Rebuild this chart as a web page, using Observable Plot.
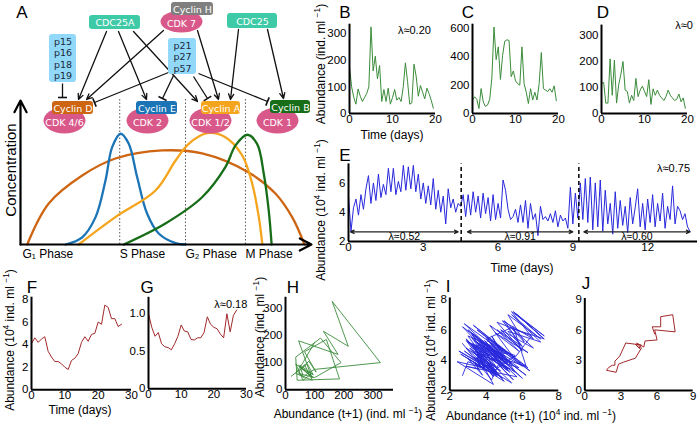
<!DOCTYPE html>
<html><head><meta charset="utf-8">
<script src="https://cdn.jsdelivr.net/npm/d3@7"></script>
<script src="https://cdn.jsdelivr.net/npm/@observablehq/plot@0.6"></script>
<style>
body{margin:0;background:#fff;}
#fig{position:relative;width:700px;height:425px;overflow:hidden;font-family:"Liberation Sans",Arial,sans-serif;color:#000;background:#fff;}
.p{position:absolute;}
.lbl{position:absolute;white-space:nowrap;font-size:12px;transform:translate(-50%,-50%);line-height:1;}
.rot{transform:translate(-50%,-50%) rotate(-90deg);}
.let{font-size:17px;}
sup{font-size:70%;vertical-align:super;line-height:0;}
</style></head><body><div id="fig"></div>
<script>
// ---------------- DATA ----------------
// Panel A: cyclin concentration profiles (cell-cycle position 0-100, relative level 0-1)
const cyclinD = [[2.3,0],[9.7,0.285],[21.2,0.479],[32.6,0.597],[48.7,0.653],[62.4,0.632],[78.4,0.5],[87.6,0.354],[93.4,0.188],[97.6,0]];
const cyclinE = [[15.5,0],[21.2,0.05],[25.8,0.19],[29.2,0.444],[31.5,0.676],[34.4,0.769],[37.2,0.699],[40.1,0.467],[43.5,0.215],[47.5,0.076],[53.3,0.009],[56.7,0]];
const cyclinA = [[20,0],[32.6,0.19],[46.4,0.375],[53.3,0.583],[57.8,0.699],[64.2,0.773],[70.4,0.745],[76.2,0.618],[79.6,0.424],[81.9,0.19],[83.1,0]];
const cyclinB = [[35.5,0],[49.8,0.146],[62.4,0.328],[70.4,0.537],[73.9,0.688],[77.9,0.762],[81.3,0.699],[83.6,0.491],[85.3,0.236],[86.3,0]];
const phaseNames = ["G\u2081 Phase","S Phase","G\u2082 Phase","M Phase"];
const phaseStarts = [0.7, 34.1, 56.7, 77.3];
const phaseBounds = [34.1, 56.7, 77.3];

// Panel A diagram
const boxNames = ["CDC25A","Cyclin H","CDC25","p15\np16\np18\np19","p21\np27\np57","Cyclin D","Cyclin E","Cyclin A","Cyclin B"];
const cdkNames = ["CDK 7","CDK 4/6","CDK 2","CDK 1/2","CDK 1"];
const activations = [["CDC25A","Cyclin D"],["CDC25A","Cyclin E"],["CDC25A","Cyclin A"],["CDK 7","Cyclin D"],["CDK 7","Cyclin A"],["CDC25","Cyclin A"],["CDC25","Cyclin B"]];
const inhibitions = [["p15","Cyclin D"],["p21","Cyclin D"],["p21","Cyclin E"],["p21","Cyclin A"],["p21","Cyclin B"]];

// Panels B-D: abundance (ind. ml-1), every 0.5 day
const bValues = [175,100,60,35,92,65,45,60,75,100,325,160,215,130,180,45,90,45,95,35,60,90,50,60,45,100,190,120,35,40,185,140,65,105,80,55,95,75,50,20];
const cValues = [94,118,100,35,176,82,50,60,100,250,610,380,470,240,410,510,520,515,260,300,230,210,200,470,210,150,70,175,95,150,95,210,430,175,165,155,175,150,195,90];
const dValues = [115,120,40,40,210,70,205,40,110,150,200,90,85,40,70,50,135,65,90,105,85,65,130,35,95,70,90,70,60,50,65,90,70,60,50,55,75,45,60,20];
// Panel E: abundance (10^4 ind. ml-1), every 0.1 day
const eValues = [
5.1,2.7,4.3,4.9,3.8,5.2,4.2,5.6,6.5,4.6,
6.0,4.8,6.6,5.0,5.9,5.2,7.0,5.4,7.0,5.2,
6.1,5.4,7.2,5.5,7.1,5.6,7.2,5.4,6.6,4.9,
6.0,4.6,5.8,4.5,6.3,4.2,5.5,4.0,5.1,3.2,
5.6,4.3,4.9,4.0,4.6,4.4,5.2,3.7,5.2,3.8,
5.4,4.0,5.1,3.6,5.3,3.9,5.0,3.4,5.2,3.5,
4.6,3.6,6.2,5.5,4.2,3.5,3.7,4.2,3.3,4.5,
3.3,4.8,2.9,4.6,3.5,3.9,2.4,4.4,3.5,3.7,
3.4,3.9,3.3,4.1,3.0,3.8,3.4,3.6,2.9,5.7,
3.2,5.3,3.6,6.0,3.5,6.3,3.3,6.4,2.8,6.0,
3.0,6.2,2.7,5.5,3.2,4.6,2.5,5.4,2.9,4.8,
3.1,4.4,2.6,5.0,3.2,4.3,5.6,3.0,4.6,2.8,
4.9,3.3,5.2,3.0,4.6,3.4,5.3,2.9,4.4,3.5,
5.8,3.2,4.4,4.1,3.5,3.9,3.0,2.7];
const ePeriods = [[0.08,4.4],[4.77,9.0],[9.44,13.7]];
const eLambdas = ["\u03bb\u22480.52","\u03bb\u22480.91","\u03bb\u22480.60"];
const eBreaks = [4.52, 9.24];
// Panels F, G: daily
const fValues = [4.1,4.6,4.2,4.5,4.7,3.4,2.9,2.5,2.5,2.3,2.0,1.8,2.6,2.8,3.2,4.2,4.7,4.3,4.9,5.0,6.0,5.8,7.5,7.3,6.3,6.3,5.6,5.8];
const gValues = [1.0,0.82,0.70,0.75,0.60,0.56,0.55,0.52,0.60,0.70,0.85,0.77,0.76,0.66,0.65,0.68,0.68,0.75,0.96,0.86,0.82,0.80,0.73,0.68,1.0,0.76,0.98,1.05];

// ---------------- STYLES / LAYOUT ----------------
const green = "#3b8c3b", blue = "#2828dc", brown = "#a2292b";
const teal = "#3fcaa7", pink = "#d9588a", pale = "#92d8f8";
const boxFill = {"CDC25A":teal,"Cyclin H":"#7f7f7f","CDC25":teal,"p15\np16\np18\np19":pale,"p21\np27\np57":pale,"Cyclin D":"#cd6512","Cyclin E":"#1b74b6","Cyclin A":"#f5a51d","Cyclin B":"#186e18"};
const boxLayout = {"CDC25A":[89,140,15,29],"Cyclin H":[171,213,2,15],"CDC25":[227,277,13,28],"p15\np16\np18\np19":[49,76,34,82],"p21\np27\np57":[168,196,38,74],"Cyclin D":[52,93,101,114],"Cyclin E":[136,177,101,114],"Cyclin A":[201,240,101,114],"Cyclin B":[270,310,100,113]};
const cdkLayout = {"CDK 7":[181,21],"CDK 4/6":[64,120],"CDK 2":[147,120],"CDK 1/2":[210,120],"CDK 1":[277,120]};
const actLayout = [[106,31,78,99],[118,31,146,99],[133,31,197,101],[163,30,86,99],[197,30,218,99],[238,29,230,99],[267,29,283,98]];
const inhLayout = [[62,83,62,97],[168,72,94,102],[173,75,162,98],[193,76,207,98],[198,73,267,101]];

const fig = document.getElementById("fig");
function place(node, left, top){const d=document.createElement("div");d.className="p";d.style.left=left+"px";d.style.top=top+"px";d.appendChild(node);fig.appendChild(d);}
function lab(html, x, y, cls="", size=null){const d=document.createElement("div");d.className="lbl "+cls;d.innerHTML=html;d.style.left=x+"px";d.style.top=y+"px";if(size)d.style.fontSize=size+"px";fig.appendChild(d);}
const baseStyle = {background:"transparent", overflow:"visible", fontFamily:"Liberation Sans, Arial, sans-serif", fontSize:"11.5px", color:"#000"};
const plain = d => String(d);

function panel(box, frame, xs, ys, marks){
  const svg = Plot.plot({
    width: box[2], height: box[3],
    marginLeft: frame[0]-box[0], marginRight: box[0]+box[2]-frame[1],
    marginTop: frame[2]-box[1], marginBottom: box[1]+box[3]-frame[3],
    x: {domain: xs.domain, ticks: xs.ticks, tickSize: 0, tickPadding: 1, tickFormat: xs.fmt || plain, label: null},
    y: {domain: ys.domain, ticks: ys.ticks, tickSize: 0, tickPadding: 3, tickFormat: ys.fmt || plain, label: null},
    style: baseStyle,
    marks: [...marks,
      Plot.ruleX([xs.domain[0]], {stroke:"#000", strokeWidth:2}),
      Plot.ruleY([ys.domain[0]], {stroke:"#000", strokeWidth:2})]
  });
  place(svg, box[0], box[1]);
}
const series = (vals, step) => vals.map((v,i)=>({t:i*step, v}));
const lagged = vals => vals.slice(1).map((v,i)=>({next:v, now:vals[i]}));

// ---------------- PANEL A ----------------
const conc = Plot.plot({
  width:330, height:180, marginLeft:20, marginRight:19, marginTop:10, marginBottom:26,
  x:{domain:[0,100], axis:null}, y:{domain:[0,1], axis:null},
  style: {...baseStyle, fontSize:"12px"},
  marks:[
    Plot.ruleX(phaseBounds, {y1:0, y2:1.02, stroke:"#444", strokeWidth:0.9, strokeDasharray:"1.5,2"}),
    Plot.line(cyclinD, {x:d=>d[0], y:d=>d[1], stroke:"#cd6512", strokeWidth:2.3, curve:"catmull-rom"}),
    Plot.line(cyclinE, {x:d=>d[0], y:d=>d[1], stroke:"#1b74b6", strokeWidth:2.3, curve:"catmull-rom"}),
    Plot.line(cyclinA, {x:d=>d[0], y:d=>d[1], stroke:"#f5a51d", strokeWidth:2.3, curve:"catmull-rom"}),
    Plot.line(cyclinB, {x:d=>d[0], y:d=>d[1], stroke:"#186e18", strokeWidth:2.3, curve:"catmull-rom"}),
    Plot.arrow([{x1:0,y1:0,x2:100,y2:0},{x1:0,y1:0,x2:0,y2:1}], {x1:"x1",y1:"y1",x2:"x2",y2:"y2", stroke:"#000", strokeWidth:2.2, headLength:9, headAngle:55}),
    Plot.text(phaseNames, {x:(d,i)=>phaseStarts[i], y:-0.07, text:d=>d, textAnchor:"start", fontSize:12})
  ]
});
place(conc, 0, 90);

const ellipseSym = (rx, ry) => ({draw(ctx){const k=0.5523;ctx.moveTo(rx,0);ctx.bezierCurveTo(rx,k*ry,k*rx,ry,0,ry);ctx.bezierCurveTo(-k*rx,ry,-rx,k*ry,-rx,0);ctx.bezierCurveTo(-rx,-k*ry,-k*rx,-ry,0,-ry);ctx.bezierCurveTo(k*rx,-ry,rx,-k*ry,rx,0);ctx.closePath();}});
const bars = inhLayout.map(([x1,y1,x2,y2])=>{const dx=x2-x1, dy=y2-y1, L=Math.hypot(dx,dy), px=-dy/L*4.5, py=dx/L*4.5;return {x1:x2-px,y1:y2-py,x2:x2+px,y2:y2+py};});
const diag = Plot.plot({
  width:330, height:140, margin:0,
  x:{domain:[0,330], range:[0,330], axis:null}, y:{domain:[0,140], range:[0,140], axis:null},
  style:{...baseStyle, fontFamily:"DejaVu Sans, Verdana, sans-serif"},
  marks:[
    Plot.arrow(actLayout, {x1:d=>d[0], y1:d=>d[1], x2:d=>d[2], y2:d=>d[3], stroke:"#111", strokeWidth:1.3, headLength:7, headAngle:50}),
    Plot.link(inhLayout, {x1:d=>d[0], y1:d=>d[1], x2:d=>d[2], y2:d=>d[3], stroke:"#111", strokeWidth:1.3}),
    Plot.link(bars, {x1:"x1", y1:"y1", x2:"x2", y2:"y2", stroke:"#111", strokeWidth:1.6}),
    Plot.dot(cdkNames.slice(0,1), {x:d=>cdkLayout[d][0], y:d=>cdkLayout[d][1], symbol:ellipseSym(21,11), fill:pink}),
    Plot.dot(cdkNames.slice(1), {x:d=>cdkLayout[d][0], y:d=>cdkLayout[d][1], symbol:ellipseSym(21,13), fill:pink}),
    Plot.text(cdkNames, {x:d=>cdkLayout[d][0], y:d=>cdkLayout[d][1]+2, text:d=>d, fill:"white", fontSize:9.5}),
    Plot.rect(boxNames, {x1:d=>boxLayout[d][0], x2:d=>boxLayout[d][1], y1:d=>boxLayout[d][2], y2:d=>boxLayout[d][3], fill:d=>boxFill[d], rx:3}),
    Plot.text(boxNames, {x:d=>(boxLayout[d][0]+boxLayout[d][1])/2, y:d=>(boxLayout[d][2]+boxLayout[d][3])/2, text:d=>d, fill:d=>d.startsWith("p")?"#1a2a3a":"white", fontSize:9.5, lineHeight:1.2})
  ]
});
place(diag, 0, 0);

// ---------------- PANELS B-D ----------------
panel([300,0,145,140],[349,435,23.7,113],{domain:[0,20],ticks:[0,10,20]},{domain:[0,335],ticks:[0,100,200,300]},[
  Plot.line(series(bValues,0.5),{x:"t",y:"v",stroke:green,strokeWidth:1}),
  Plot.text(["\u03bb\u22480.20"],{x:15.1,y:311,text:d=>d,fontSize:11})]);
panel([440,0,125,140],[472,558,23.7,113],{domain:[0,20],ticks:[0,10,20]},{domain:[0,630],ticks:[0,200,400,600]},[
  Plot.line(series(cValues,0.5),{x:"t",y:"v",stroke:green,strokeWidth:1})]);
panel([570,0,130,140],[601,687,24.6,113],{domain:[0,20],ticks:[0,10,20]},{domain:[0,340],ticks:[0,100,200,300]},[
  Plot.line(series(dValues,0.5),{x:"t",y:"v",stroke:green,strokeWidth:1}),
  Plot.text(["\u03bb\u22480"],{x:19.2,y:338,text:d=>d,fontSize:11})]);

// ---------------- PANEL E ----------------
panel([300,140,400,140],[348,697,163.4,241],{domain:[0,14],ticks:[0,3,6,9,12]},{domain:[2,7.3],ticks:[2,4,6]},[
  Plot.line(series(eValues,0.1),{x:"t",y:"v",stroke:blue,strokeWidth:1}),
  Plot.ruleX(eBreaks,{y1:2,y2:7.3,stroke:"#000",strokeWidth:1.5,strokeDasharray:"4,3"}),
  Plot.arrow(ePeriods,{x1:d=>(d[0]+d[1])/2,x2:d=>d[0],y1:2.66,y2:2.66,stroke:"#222",strokeWidth:1.2,headLength:5,headAngle:50}),
  Plot.arrow(ePeriods,{x1:d=>(d[0]+d[1])/2,x2:d=>d[1],y1:2.66,y2:2.66,stroke:"#222",strokeWidth:1.2,headLength:5,headAngle:50}),
  Plot.text(eLambdas,{x:(d,i)=>(ePeriods[i][0]+ePeriods[i][1])/2,y:2.32,text:d=>d,fontSize:10.5}),
  Plot.text(["\u03bb\u22480.75"],{x:13.7,y:6.96,text:d=>d,textAnchor:"end",fontSize:11})]);

// ---------------- PANELS F-J ----------------
panel([0,285,140,140],[31,131,296.7,389.3],{domain:[0,30],ticks:[0,10,20,30]},{domain:[0,8.2],ticks:[0,2,4,6,8]},[
  Plot.line(series(fValues,1),{x:"t",y:"v",stroke:brown,strokeWidth:1})]);
panel([110,285,145,140],[148,246,296.8,388.3],{domain:[0,30],ticks:[0,10,20,30]},{domain:[0,1.22],ticks:[0,0.5,1],fmt:d=>d===0?"0":d3.format(".1f")(d)},[
  Plot.line(series(gValues,1),{x:"t",y:"v",stroke:brown,strokeWidth:1}),
  Plot.text(["\u03bb\u22480.18"],{x:25.2,y:1.13,text:d=>d,fontSize:11})]);
panel([250,285,150,140],[285,393,296.8,389.3],{domain:[0,370],ticks:[0,100,200,300]},{domain:[0,340],ticks:[0,100,200,300]},[
  Plot.line(lagged(bValues),{x:"next",y:"now",stroke:green,strokeWidth:0.9})]);
panel([400,285,165,140],[449.3,558.3,297.5,390],{domain:[2,8],ticks:[2,4,6,8]},{domain:[2,8.1],ticks:[2,4,6,8]},[
  Plot.line(lagged(eValues),{x:"next",y:"now",stroke:blue,strokeWidth:0.9})]);
panel([560,285,140,140],[584.3,692.7,298,390],{domain:[0,9],ticks:[0,3,6,9]},{domain:[0,9.1],ticks:[0,3,6,9]},[
  Plot.line(lagged(fValues),{x:"next",y:"now",stroke:brown,strokeWidth:1})]);

// ---------------- TEXT LABELS ----------------
const letters = [["A",22,12],["B",345,12],["C",468,12],["D",603,12],["E",345,155],["F",32,287],["G",147,287],["H",293,287],["I",448,286],["J",586,283]];
letters.forEach(([t,x,y])=>lab(t,x,y,"let"));
const abIndMl = "Abundance (ind. ml <sup>\u22121</sup>)";
const ab104 = "Abundance (10<sup>4</sup> ind. ml <sup>\u22121</sup>)";
lab("Concentration",10,170,"rot",15);
lab(abIndMl,321,64,"rot");
lab(ab104,321,210,"rot");
lab(ab104,10,340,"rot");
lab(abIndMl,260,337,"rot");
lab(ab104,431,350,"rot");
lab("Time (days)",392,135);
lab("Time (days)",522,268);
lab("Time (days)",80,410);
lab("Abundance (t+1) (ind. ml <sup>\u22121</sup>)",348,414);
lab("Abundance (t+1) (10<sup>4</sup> ind. ml <sup>\u22121</sup>)",531,416);
</script></body></html>
